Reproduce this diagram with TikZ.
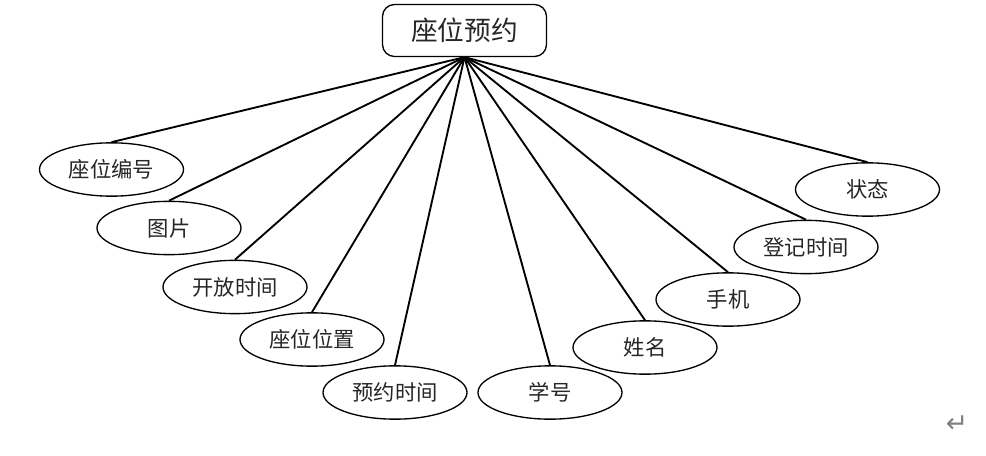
\documentclass[tikz,border=0pt]{standalone}
\usepackage{fontspec}
\newfontfamily\cjk{Noto Sans CJK SC}
\newfontfamily\symfont{DejaVu Sans}
\usepackage{tikz}
\usetikzlibrary{shapes.geometric}
\tikzset{
  erentity/.style={draw,rounded corners=9pt,line width=1pt,inner sep=0pt,minimum width=123pt,minimum height=39pt,font=\cjk\fontsize{20}{24}\selectfont,text=black!85},
  erattr/.style={draw,ellipse,line width=1pt,inner sep=0pt,minimum width=108pt,minimum height=40pt,font=\cjk\fontsize{16}{19}\selectfont,text=black!85},
  erlink/.style={line width=1.4pt},
  ermark/.style={font=\symfont\fontsize{20}{24}\selectfont,text=black!50},
}

\begin{document}
\begin{tikzpicture}[x=0.75pt,y=-0.75pt]
\useasboundingbox (0,0) rectangle (986,456);
% entity
\node[erentity] (seat) at (464.5,30.5) {座位预约};
% attributes, left to right
\node[erattr] (num)   at (111.5,169.5) {座位编号};
\node[erattr] (pic)   at (169,228)     {图片};
\node[erattr] (open)  at (235,287)     {开放时间};
\node[erattr] (place) at (312,339.5)   {座位位置};
\node[erattr] (rtime) at (395,392.5)   {预约时间};
\node[erattr] (sid)   at (550,392.5)   {学号};
\node[erattr] (name)  at (645,347.5)   {姓名};
\node[erattr] (phone) at (728,299.5)   {手机};
\node[erattr] (ctime) at (806,247)     {登记时间};
\node[erattr] (state) at (867.5,189.5) {状态};
\foreach \a in {num,pic,open,place,rtime,sid,name,phone,ctime,state}
  \draw[erlink] (seat.south) -- (\a.north);
\node[ermark] (ret) at (957,424) {↵};
\end{tikzpicture}
\end{document}
